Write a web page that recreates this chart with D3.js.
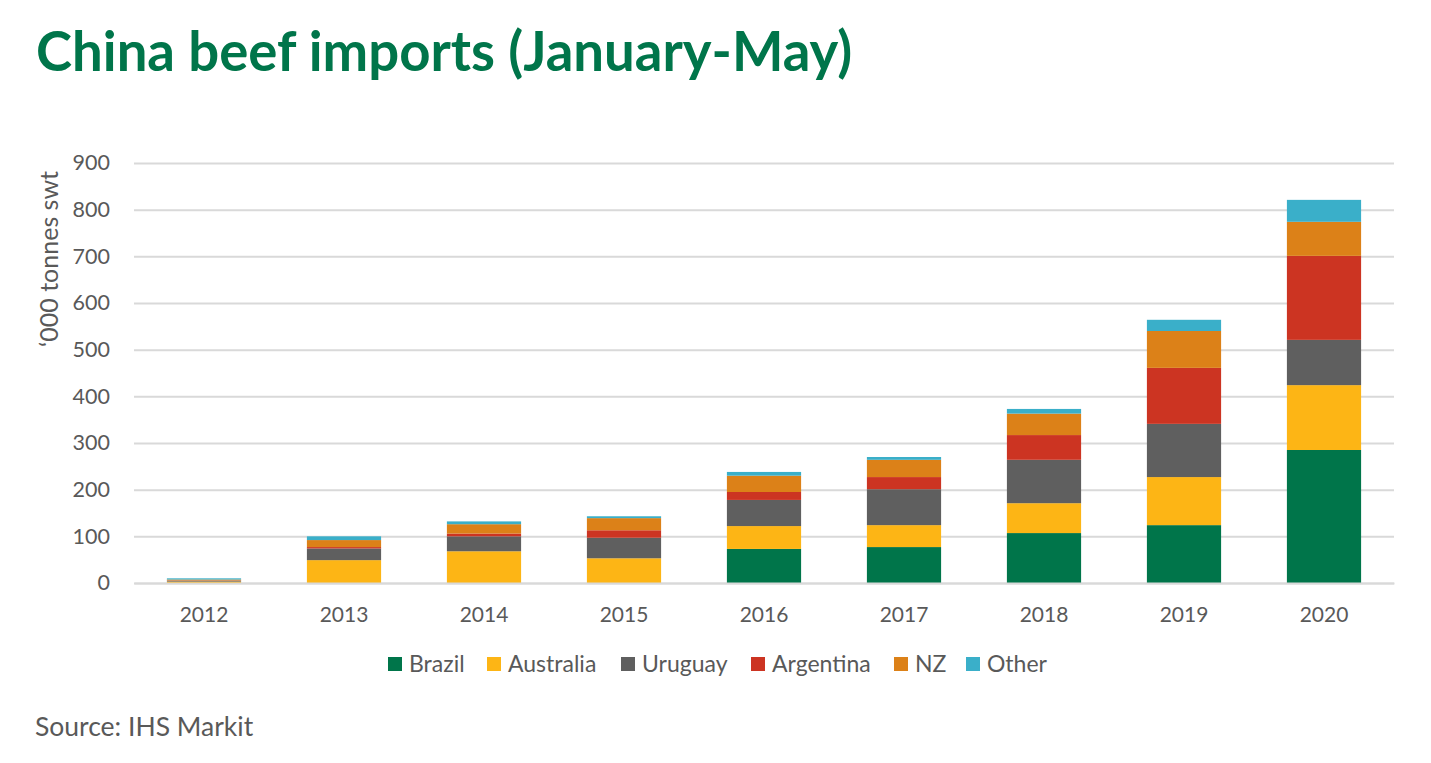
<!DOCTYPE html>
<html><head><meta charset="utf-8">
<style>html,body{margin:0;padding:0;background:#fff}svg{display:block}text{font-family:Lato,sans-serif}</style>
<script src="https://cdnjs.cloudflare.com/ajax/libs/d3/7.8.5/d3.min.js"></script>
</head><body><svg id="c" width="1431" height="763"></svg>
<script>
const years=["2012","2013","2014","2015","2016","2017","2018","2019","2020"];
const seriesNames=["Brazil","Australia","Uruguay","Argentina","NZ","Other"];
const brazil=[0,0,0,0,73,77,107,124,285];
const australia=[3,49,68,53,49,47,64,103,139];
const uruguay=[2,25,32,44,56,77,93,114,97];
const argentina=[0.5,3,6,16,17,26,53,120,180];
const nz=[2,15,20,26,35,37,46,79,73];
const other=[2.5,8,6,4,8,6,10,24,47];
const colors=["#00754A","#FDB515","#5F5F5F","#CC3422","#DC8118","#3AAFC9"];
const yTicks=[0,100,200,300,400,500,600,700,800,900];
const title="China beef imports (January-May)", yLabel="‘000 tonnes swt", source="Source: IHS Markit";

const rows=years.map((y,i)=>({year:y,Brazil:brazil[i],Australia:australia[i],Uruguay:uruguay[i],Argentina:argentina[i],NZ:nz[i],Other:other[i]}));
const stacked=d3.stack().keys(seriesNames)(rows);
const svg=d3.select("#c");
const m={l:134,r:1394,t:163,b:583};
const x=d3.scaleBand().domain(years).range([m.l,m.r]).paddingInner(0.47).paddingOuter(0.235);
const y=d3.scaleLinear().domain([0,900]).range([m.b,m.t]);
const color=d3.scaleOrdinal().domain(seriesNames).range(colors);
const txt="#595959";

svg.append("text").attr("x",36).attr("y",71).attr("font-size",54.5).attr("font-weight",700).attr("fill","#00754A").text(title);

const ya=svg.append("g").attr("transform",`translate(${m.l},0)`)
 .call(d3.axisLeft(y).tickValues(yTicks).tickSize(-(m.r-m.l)).tickPadding(24));
ya.select(".domain").remove();
ya.selectAll("line").attr("stroke","#D9D9D9").attr("stroke-width",2);
ya.selectAll("text").attr("font-size",21.5).attr("fill",txt).style("font-family","Lato");

svg.append("g").selectAll("g").data(stacked).join("g").attr("fill",d=>color(d.key))
 .selectAll("rect").data(d=>d).join("rect")
 .attr("x",d=>x(d.data.year)).attr("width",x.bandwidth())
 .attr("y",d=>y(d[1])).attr("height",d=>y(d[0])-y(d[1]));

const xa=svg.append("g").attr("transform",`translate(0,${m.b})`)
 .call(d3.axisBottom(x).tickSize(0).tickPadding(24.5));
xa.select(".domain").attr("stroke","#D9D9D9").attr("stroke-width",2);
xa.selectAll("text").attr("font-size",21).attr("fill",txt).style("font-family","Lato");

svg.append("text").attr("transform","translate(58,259) rotate(-90)").attr("text-anchor","middle")
 .attr("font-size",25).attr("fill",txt).text(yLabel);

const legX=[388,487,621,751,894,966];
const lg=svg.append("g").selectAll("g").data(seriesNames).join("g")
 .attr("transform",(d,i)=>`translate(${legX[i]},657)`);
lg.append("rect").attr("width",14).attr("height",14).attr("fill",d=>color(d));
lg.append("text").attr("x",21).attr("y",15).attr("font-size",23).attr("fill",txt).text(d=>d);

svg.append("text").attr("x",35).attr("y",736).attr("font-size",26.5).attr("fill",txt).text(source);
</script></body></html>
